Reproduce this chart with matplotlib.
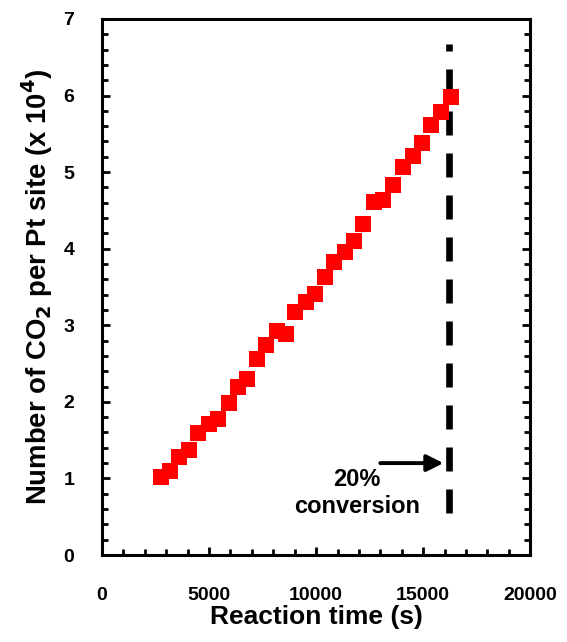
import matplotlib
matplotlib.use('Agg')
import matplotlib.pyplot as plt
from matplotlib.ticker import MultipleLocator

plt.rcParams['font.family'] = ['Liberation Sans', 'DejaVu Sans']
plt.rcParams['font.weight'] = 'bold'
plt.rcParams['mathtext.default'] = 'bf'

# reaction time (s) and CO2 per Pt site (x 10^4)
time_s = [2743, 3178, 3598, 4081, 4502, 5000, 5421, 5919, 6340, 6760,
          7258, 7679, 8178, 8598, 9034, 9517, 9953, 10436, 10857, 11355,
          11776, 12196, 12694, 13115, 13613, 14050, 14533, 14969, 15389,
          15857, 16293]
co2_per_site = [1.02, 1.10, 1.28, 1.375, 1.59, 1.71, 1.77, 1.985, 2.19, 2.30,
                2.56, 2.74, 2.92, 2.88, 3.17, 3.31, 3.41, 3.635, 3.83, 3.96,
                4.105, 4.32, 4.61, 4.636, 4.83, 5.07, 5.21, 5.385, 5.61,
                5.78, 5.98]
conv_time = 16200
conv_label = '20%\nconversion'

fig = plt.figure(figsize=(5.67, 6.42), dpi=100)
ax = fig.add_axes([0.18, 0.1355, 0.755, 0.835])

ax.plot([conv_time, conv_time], [0.55, 6.67], color='black', linewidth=4.8,
        linestyle=(0, (3.6, 2.7)), solid_capstyle='butt',
        dash_capstyle='butt')
ax.plot(time_s, co2_per_site, 's', color='#ff0000', markersize=11,
        markeredgewidth=0, zorder=3)

ax.annotate('', xy=(15950, 1.2), xytext=(13000, 1.2),
            arrowprops=dict(arrowstyle='-|>', color='black', lw=2.8,
                            mutation_scale=25, shrinkA=0, shrinkB=0))
ax.text(11900, 0.81, conv_label, ha='center', va='center', fontsize=17,
        fontweight='bold', linespacing=1.2)

ax.set_xlim(0, 20000)
ax.set_ylim(0, 7)
ax.xaxis.set_major_locator(MultipleLocator(5000))
ax.xaxis.set_minor_locator(MultipleLocator(1000))
ax.yaxis.set_major_locator(MultipleLocator(1))
ax.yaxis.set_minor_locator(MultipleLocator(0.2))

for s in ax.spines.values():
    s.set_linewidth(2.2)
ax.tick_params(which='both', direction='in', width=2, top=False, right=True,
               labelsize=14)
ax.tick_params(which='major', length=6)
ax.tick_params(which='minor', length=4)
ax.tick_params(axis='x', which='major', pad=23)
ax.tick_params(axis='y', which='major', pad=20)

ax.set_xlabel('Reaction time (s)', fontsize=19, fontweight='bold', labelpad=1)
ax.set_ylabel('Number of CO$_2$ per Pt site (x 10$^4$)', fontsize=19.8,
              fontweight='bold', labelpad=6)

fig.savefig('out.png', dpi=100)
